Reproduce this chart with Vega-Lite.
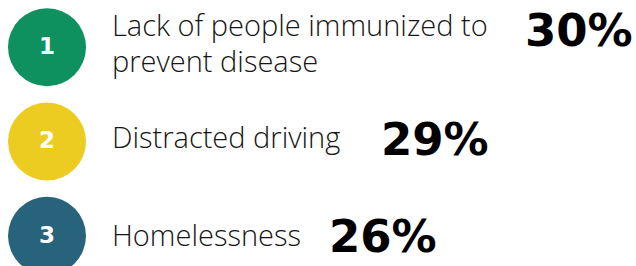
{
  "$schema": "https://vega.github.io/schema/vega-lite/v6.json",
  "width": 636,
  "height": 266,
  "autosize": "none",
  "padding": 0,
  "background": "white",
  "config": {"view": {"stroke": null}},
  "data": {
    "values": [
      {"rank": 1, "label": "Lack of people immunized to\nprevent disease", "pct": "30%"},
      {"rank": 2, "label": "Distracted driving", "pct": "29%"},
      {"rank": 3, "label": "Homelessness", "pct": "26%"}
    ]
  },
  "resolve": {"scale": {"x": "independent", "y": "independent"}},
  "layer": [
    {
      "encoding": {
        "y": {"field": "rank", "type": "quantitative", "scale": {"domain": [0.5, 3.32], "reverse": true, "nice": false, "zero": false}, "axis": null}
      },
      "layer": [
        {
          "mark": {"type": "point", "shape": "circle", "filled": true, "opacity": 1, "size": 6084},
          "encoding": {
            "x": {"datum": 47, "type": "quantitative", "scale": {"domain": [0, 636], "nice": false, "zero": false}, "axis": null},
            "color": {"field": "rank", "type": "nominal", "scale": {"domain": [1, 2, 3], "range": ["#0E915F", "#EDCC22", "#27637B"]}, "legend": null}
          }
        },
        {
          "mark": {"type": "text", "font": "DejaVu Sans", "fontWeight": "bold", "fontSize": 23, "color": "white", "align": "center", "baseline": "middle", "dy": 0},
          "encoding": {
            "x": {"datum": 47, "type": "quantitative", "scale": {"domain": [0, 636], "nice": false, "zero": false}, "axis": null},
            "text": {"field": "rank", "type": "nominal"}
          }
        }
      ]
    },
    {
      "mark": {"type": "text", "font": "Open Sans", "fontWeight": 300, "fontSize": 29, "color": "#161616", "align": "left", "baseline": "middle", "lineBreak": "\n", "lineHeight": 36},
      "encoding": {
        "x": {"datum": 112, "type": "quantitative", "scale": {"domain": [0, 636], "nice": false, "zero": false}, "axis": null},
        "y": {"field": "rank", "type": "quantitative", "scale": {"type": "linear", "domain": [1, 2, 3], "range": [27, 139, 237], "nice": false, "zero": false}, "axis": null},
        "text": {"field": "label", "type": "nominal"}
      }
    },
    {
      "mark": {"type": "text", "font": "DejaVu Sans", "fontWeight": "bold", "fontSize": 45, "color": "black", "align": "left", "baseline": "middle"},
      "encoding": {
        "x": {"field": "rank", "type": "quantitative", "scale": {"type": "linear", "domain": [1, 2, 3], "range": [525, 381, 329], "nice": false, "zero": false}, "axis": null},
        "y": {"field": "rank", "type": "quantitative", "scale": {"type": "linear", "domain": [1, 2, 3], "range": [32, 141, 238], "nice": false, "zero": false}, "axis": null},
        "text": {"field": "pct", "type": "nominal"}
      }
    }
  ]
}
